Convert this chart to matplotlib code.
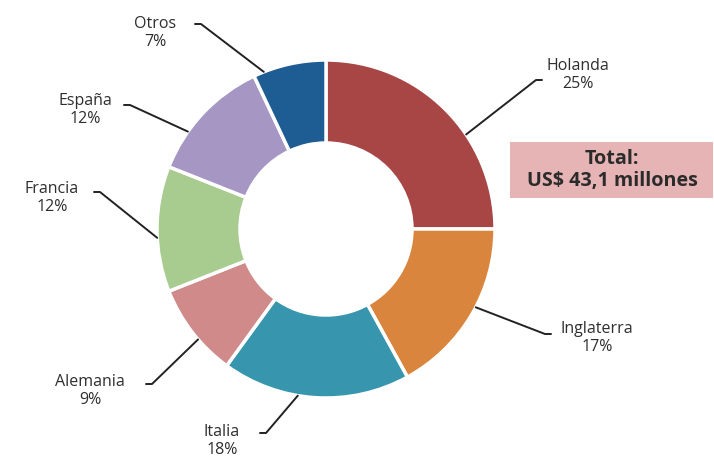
import matplotlib
matplotlib.use("Agg")
import numpy as np
import matplotlib.pyplot as plt

# Exportaciones por destino (% del total)
destinos = ["Holanda", "Inglaterra", "Italia", "Alemania", "Francia", "España", "Otros"]
porcentajes = [25, 17, 18, 9, 12, 12, 7]
colores = ["#a84545", "#d9853e", "#3796ad", "#d08a8a", "#a8cb8f", "#a596c4", "#1e5c94"]
total_texto = "Total:\nUS$ 43,1 millones"

# posiciones de etiquetas y quiebre de las guias (pixeles, origen arriba-izq)
pos_texto = [(578, 75), (597, 338), (222, 441), (90, 391), (52, 198), (85, 110), (155, 33)]
codo = [(536, 80), (545, 334), (266, 433), (152, 384), (100, 192), (130, 105), (201, 24)]
gancho = [6, 6, -6, -6, -6, -6, -6]
# desplazamiento angular del punto de salida de cada guia
desvio = [-11, 3, -6, 3, 3, 8, 9]

W, H = 714, 459
cx, cy, R = 326, 229, 169

plt.rcParams["font.family"] = ["Open Sans", "DejaVu Sans"]
fig = plt.figure(figsize=(W / 100, H / 100), dpi=100)
ax = fig.add_axes([0, 0, 1, 1])

ax.pie(porcentajes, colors=colores, startangle=90, counterclock=False,
       radius=R, center=(cx, H - cy),
       wedgeprops=dict(width=83, edgecolor="white", linewidth=2.5))

# guias y etiquetas
ang0 = 90.0
for nombre, p, (tx, ty), (ex, ey), g, d in zip(destinos, porcentajes, pos_texto,
                                              codo, gancho, desvio):
    mid = np.deg2rad(ang0 - p * 3.6 / 2 + d)
    ang0 -= p * 3.6
    px = cx + R * np.cos(mid)
    py = H - cy + R * np.sin(mid)
    ax.plot([px, ex, ex + g], [py, H - ey, H - ey], color="#222222", lw=1.4,
            solid_capstyle="round")
    ax.text(tx, H - ty, f"{nombre}\n{p}%", ha="center", va="center",
            fontsize=11.5, color="#2e2e2e", linespacing=1.1)

# recuadro con el total
ax.add_patch(plt.Rectangle((510, H - 198), 203, 56, color="#e6b4b4", lw=0))
ax.text(612, H - 170, total_texto, ha="center", va="center", fontsize=14.2,
        fontweight="bold", color="#2b2b2b", linespacing=1.1)

ax.set_xlim(0, W)
ax.set_ylim(0, H)
ax.set_aspect("auto")
ax.axis("off")

fig.savefig("out.png", dpi=100, facecolor="white")
